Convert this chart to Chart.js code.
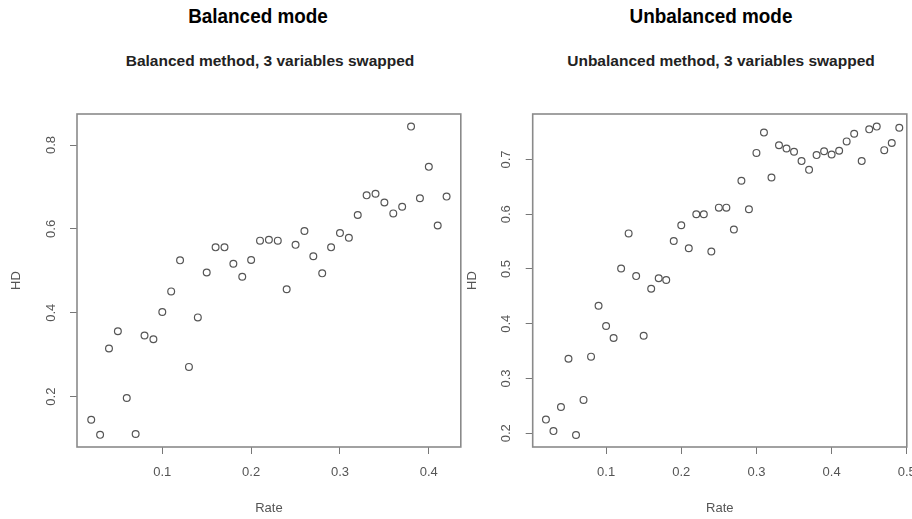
<!DOCTYPE html>
<html>
<head>
<meta charset="utf-8">
<script src="https://cdn.jsdelivr.net/npm/chart.js@4.4.1/dist/chart.umd.min.js"></script>
<style>
  html, body { margin: 0; padding: 0; background: #fff; }
  body { width: 912px; height: 519px; position: relative; overflow: hidden; font-family: "Liberation Sans", Arial, sans-serif; }
  canvas { position: absolute; top: 0; }
  .head { position: absolute; top: 4px; font-family: "Liberation Sans Narrow", "Arial Narrow", "Liberation Sans", sans-serif; font-weight: bold; font-size: 21px; color: #000; transform: translateX(-50%) scaleX(0.9); white-space: nowrap; }
  .sub { position: absolute; top: 52px; font-weight: bold; font-size: 15.5px; color: #222; transform: translateX(-50%); white-space: nowrap; }
</style>
</head>
<body>
<div class="head" style="left:258px">Balanced mode</div>
<div class="head" style="left:711px">Unbalanced mode</div>
<div class="sub" style="left:270px">Balanced method, 3 variables swapped</div>
<div class="sub" style="left:721px">Unbalanced method, 3 variables swapped</div>
<canvas id="balanced" width="466" height="519" style="left:0"></canvas>
<canvas id="unbalanced" width="456" height="519" style="left:456px"></canvas>
<script>
// swap rate (x) and HD (y)
const balancedRate = [0.02, 0.03, 0.04, 0.05, 0.06, 0.07, 0.08, 0.09, 0.10, 0.11,
                      0.12, 0.13, 0.14, 0.15, 0.16, 0.17, 0.18, 0.19, 0.20, 0.21,
                      0.22, 0.23, 0.24, 0.25, 0.26, 0.27, 0.28, 0.29, 0.30, 0.31,
                      0.32, 0.33, 0.34, 0.35, 0.36, 0.37, 0.38, 0.39, 0.40, 0.41, 0.42];
const balancedHD = [0.145, 0.109, 0.315, 0.356, 0.197, 0.111, 0.346, 0.337, 0.402, 0.451,
                    0.525, 0.271, 0.389, 0.496, 0.556, 0.556, 0.517, 0.486, 0.526, 0.572,
                    0.574, 0.572, 0.456, 0.562, 0.595, 0.535, 0.494, 0.556, 0.590, 0.579,
                    0.633, 0.680, 0.684, 0.663, 0.637, 0.653, 0.844, 0.673, 0.748, 0.608, 0.677];

const unbalancedRate = [0.02, 0.03, 0.04, 0.05, 0.06, 0.07, 0.08, 0.09, 0.10, 0.11,
                        0.12, 0.13, 0.14, 0.15, 0.16, 0.17, 0.18, 0.19, 0.20, 0.21,
                        0.22, 0.23, 0.24, 0.25, 0.26, 0.27, 0.28, 0.29, 0.30, 0.31,
                        0.32, 0.33, 0.34, 0.35, 0.36, 0.37, 0.38, 0.39, 0.40, 0.41,
                        0.42, 0.43, 0.44, 0.45, 0.46, 0.47, 0.48, 0.49];
const unbalancedHD = [0.225, 0.204, 0.248, 0.336, 0.197, 0.261, 0.340, 0.433, 0.396, 0.374,
                      0.501, 0.565, 0.487, 0.378, 0.464, 0.483, 0.480, 0.551, 0.580, 0.538,
                      0.600, 0.600, 0.532, 0.612, 0.612, 0.572, 0.661, 0.609, 0.712, 0.749,
                      0.667, 0.726, 0.720, 0.714, 0.697, 0.681, 0.708, 0.715, 0.709, 0.716,
                      0.733, 0.747, 0.697, 0.755, 0.760, 0.717, 0.730, 0.758];

const balancedXTicks = [0.1, 0.2, 0.3, 0.4];
const balancedYTicks = [0.2, 0.4, 0.6, 0.8];
const unbalancedXTicks = [0.1, 0.2, 0.3, 0.4, 0.5];
const unbalancedYTicks = [0.2, 0.3, 0.4, 0.5, 0.6, 0.7];

// axis limits as R drew them (4% extension)
const balancedXLim = [0.004, 0.436];
const balancedYLim = [0.080, 0.874];
const unbalancedXLim = [0.0024, 0.5];
const unbalancedYLim = [0.175, 0.783];

const FONT = '"Liberation Sans", Arial, sans-serif';

// R style box around the plot region
const framePlugin = {
    id: 'frame',
    beforeDatasetsDraw(chart) {
        const { ctx, chartArea: a } = chart;
        ctx.save();
        ctx.strokeStyle = '#8a8a8a';
        ctx.lineWidth = 1.6;
        ctx.strokeRect(a.left, a.top, a.right - a.left, a.bottom - a.top);
        ctx.restore();
    }
};

function makePlot(id, rates, hd, xTicks, yTicks, xLim, yLim, yAxisWidth, padRight) {
    new Chart(document.getElementById(id), {
        type: 'scatter',
        data: {
            datasets: [{
                data: rates.map((r, i) => ({ x: r, y: hd[i] })),
                pointStyle: 'circle',
                pointRadius: 3.4,
                pointBorderWidth: 1.2,
                borderColor: '#555',
                backgroundColor: 'rgba(0,0,0,0)',
                clip: false
            }]
        },
        options: {
            responsive: false,
            animation: false,
            events: [],
            layout: { padding: { top: 114, left: 0, right: padRight, bottom: 0 } },
            plugins: { legend: { display: false }, tooltip: { enabled: false } },
            scales: {
                x: {
                    type: 'linear',
                    position: 'bottom',
                    min: xLim[0],
                    max: xLim[1],
                    afterBuildTicks: s => { s.ticks = xTicks.map(v => ({ value: v })); },
                    afterFit: s => { s.height = 72; s.paddingLeft = 0; s.paddingRight = 0; },
                    grid: { drawOnChartArea: false, drawTicks: true, tickLength: 7, color: '#777', tickWidth: 1 },
                    border: { display: false },
                    ticks: {
                        padding: 11, maxRotation: 0, autoSkip: false,
                        font: { size: 13, family: FONT }, color: '#555',
                        callback: v => String(v)
                    },
                    title: { display: true, text: 'Rate', color: '#555', font: { size: 13, family: FONT }, padding: { top: 0, bottom: 3 } }
                },
                y: {
                    type: 'linear',
                    min: yLim[0],
                    max: yLim[1],
                    afterBuildTicks: s => { s.ticks = yTicks.map(v => ({ value: v })); },
                    afterFit: s => { s.width = yAxisWidth; s.paddingTop = 0; s.paddingBottom = 0; },
                    grid: { drawOnChartArea: false, drawTicks: true, tickLength: 7, color: '#777', tickWidth: 1 },
                    border: { display: false },
                    ticks: {
                        padding: 10, minRotation: 90, maxRotation: 90, crossAlign: 'center', autoSkip: false,
                        font: { size: 13, family: FONT }, color: '#555',
                        callback: v => String(v)
                    },
                    title: { display: true, text: 'HD', color: '#555', font: { size: 13, family: FONT }, padding: { top: 9, bottom: 0 } }
                }
            }
        },
        plugins: [framePlugin]
    });
}

makePlot('balanced', balancedRate, balancedHD, balancedXTicks, balancedYTicks, balancedXLim, balancedYLim, 77, 4);
makePlot('unbalanced', unbalancedRate, unbalancedHD, unbalancedXTicks, unbalancedYTicks, unbalancedXLim, unbalancedYLim, 76.7, 2);
</script>
</body>
</html>
